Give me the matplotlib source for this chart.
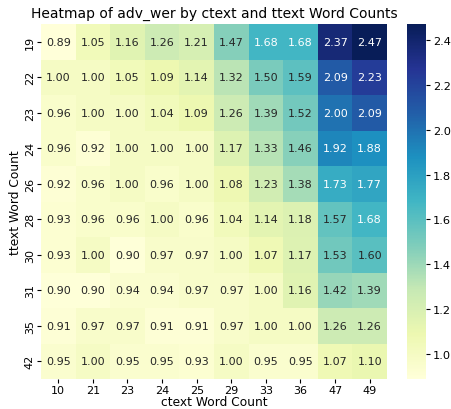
import matplotlib
matplotlib.use("Agg")
import matplotlib.pyplot as plt
import seaborn as sns
import numpy as np
import pandas as pd

ctext_counts = [10, 21, 23, 24, 25, 29, 33, 36, 47, 49]
ttext_counts = [19, 22, 23, 24, 26, 28, 30, 31, 35, 42]

row_19 = [0.89, 1.05, 1.16, 1.26, 1.21, 1.47, 1.68, 1.68, 2.37, 2.47]
row_22 = [1.00, 1.00, 1.05, 1.09, 1.14, 1.32, 1.50, 1.59, 2.09, 2.23]
row_23 = [0.96, 1.00, 1.00, 1.04, 1.09, 1.26, 1.39, 1.52, 2.00, 2.09]
row_24 = [0.96, 0.92, 1.00, 1.00, 1.00, 1.17, 1.33, 1.46, 1.92, 1.88]
row_26 = [0.92, 0.96, 1.00, 0.96, 1.00, 1.08, 1.23, 1.38, 1.73, 1.77]
row_28 = [0.93, 0.96, 0.96, 1.00, 0.96, 1.04, 1.14, 1.18, 1.57, 1.68]
row_30 = [0.93, 1.00, 0.90, 0.97, 0.97, 1.00, 1.07, 1.17, 1.53, 1.60]
row_31 = [0.90, 0.90, 0.94, 0.94, 0.97, 0.97, 1.00, 1.16, 1.42, 1.39]
row_35 = [0.91, 0.97, 0.97, 0.91, 0.91, 0.97, 1.00, 1.00, 1.26, 1.26]
row_42 = [0.95, 1.00, 0.95, 0.95, 0.93, 1.00, 0.95, 0.95, 1.07, 1.10]

rows = [row_19, row_22, row_23, row_24, row_26, row_28, row_30, row_31, row_35, row_42]
df = pd.DataFrame(rows, index=ttext_counts, columns=ctext_counts)

W, H = 452, 410
fig = plt.figure(figsize=(W / 100, H / 100), dpi=100)
ax = fig.add_axes([41 / W, 30 / H, 346 / W, 355 / H])
cax = fig.add_axes([407 / W, 30 / H, 19 / W, 355 / H])
sns.heatmap(df, annot=True, fmt=".2f", cmap="YlGnBu", ax=ax, cbar_ax=cax,
            annot_kws={"fontsize": 8})
ax.set_title("Heatmap of adv_wer by ctext and ttext Word Counts", fontsize=10, pad=5)
ax.set_xlabel("ctext Word Count", fontsize=8.8, labelpad=0)
ax.set_ylabel("ttext Word Count", fontsize=8.8, labelpad=2)
ax.tick_params(labelsize=8, length=3, pad=1.5)
cax.tick_params(labelsize=8.2, length=3, pad=2)
fig.savefig("out.png", dpi=100)
